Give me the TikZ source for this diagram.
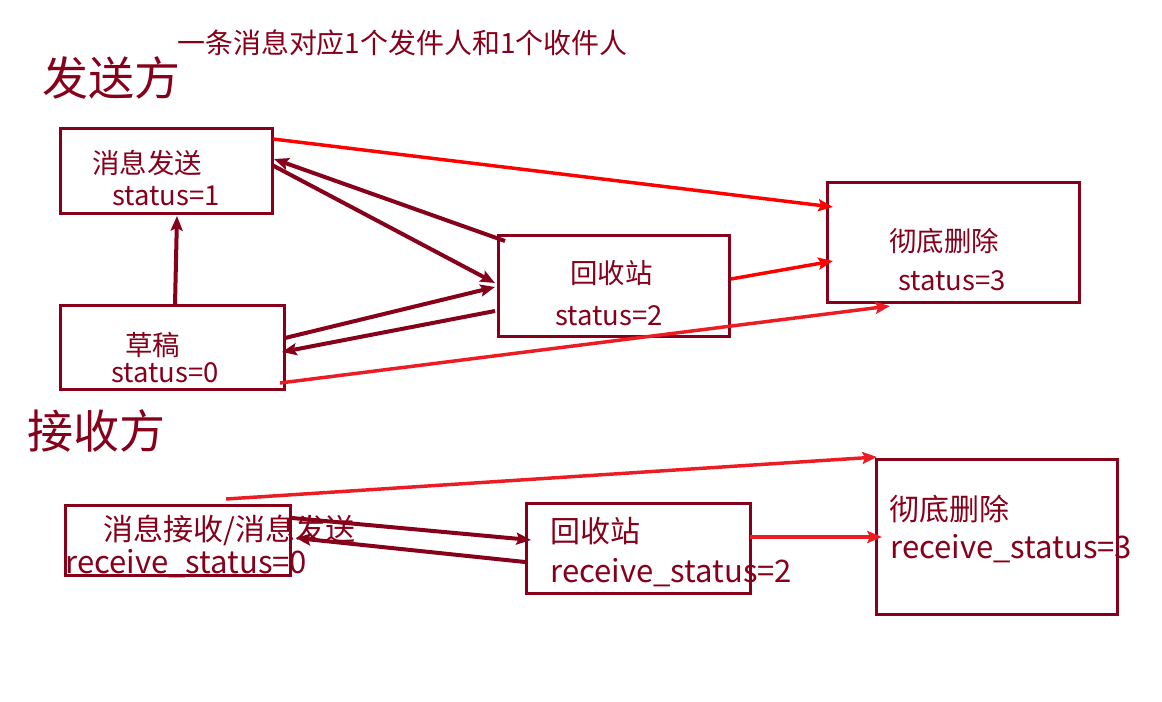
\documentclass[tikz,border=0pt]{standalone}
\usepackage{fontspec}
\setmainfont{Noto Sans CJK SC}
\usetikzlibrary{arrows.meta,calc}
\definecolor{dred}{RGB}{134,0,28}
\definecolor{redA}{RGB}{255,0,0}
\definecolor{redB}{RGB}{236,28,36}
\begin{document}
\begin{tikzpicture}[x=0.75pt,y=-0.75pt,
 box/.style={draw=dred,line width=2.25pt,inner sep=0,outer sep=0},
 lbl/.style={text=dred,inner sep=0,anchor=base west,font=\fontsize{20.6}{24}\selectfont},
 lblb/.style={lbl,font=\fontsize{22.5}{26}\selectfont},
 lblc/.style={lbl,font=\fontsize{23.3}{27}\selectfont},
 ttl/.style={lbl,font=\fontsize{20.95}{25}\selectfont},
 head/.style={lbl,font=\fontsize{34.5}{40}\selectfont},
 tip/.style={-{Stealth[length=11pt,width=9pt,inset=2pt]}},
 darr/.style={draw=dred,line width=3pt,tip},
 rarr/.style={draw=redA,line width=2.6pt,tip},
 rarrb/.style={draw=redB,line width=2.6pt,tip}]
\useasboundingbox[fill=white] (0,0) rectangle (1162,702);

% boxes
\node[box,minimum width=159pt,minimum height=63.75pt,anchor=north west] (A) at (60,129) {};
\node[box,minimum width=168pt,minimum height=63pt,anchor=north west] (D) at (60,305) {};
\node[box,minimum width=173.25pt,minimum height=75.75pt,anchor=north west] (R) at (498,235) {};
\node[box,minimum width=189pt,minimum height=89.25pt,anchor=north west] (X) at (827,183) {};
\node[box,minimum width=168.75pt,minimum height=52.5pt,anchor=north west] (B1) at (65,505) {};
\node[box,minimum width=168pt,minimum height=67.5pt,anchor=north west] (B2) at (526,503) {};
\node[box,minimum width=180.75pt,minimum height=116.25pt,anchor=north west] (B3) at (876,459) {};

% headings
\node[ttl] (title) at (177,54) {一条消息对应1个发件人和1个收件人};
\node[head] (send) at (42,96) {发送方};
\node[head] (recv) at (27,448) {接收方};

% labels
\node[lbl] (a1) at (92,174) {消息发送};
\node[lbl] (a2) at (112,205) {status=1};
\node[lbl] (d1) at (125,355) {草稿};
\node[lbl] (d2) at (111,382) {status=0};
\node[lbl] (r1) at (570,283) {回收站};
\node[lbl] (r2) at (555,325) {status=2};
\node[lbl] (x1) at (889,252) {彻底删除};
\node[lbl] (x2) at (898,290) {status=3};

\node[lblb] (b11) at (103,540) {消息接收/消息发送};
\node[lblc] (b12) at (65,573) {receive\_status=0};
\node[lblb] (b21) at (550,542) {回收站};
\node[lblc] (b22) at (550,582) {receive\_status=2};
\node[lblb] (b31) at (889,520) {彻底删除};
\node[lblc] (b32) at (890,558) {receive\_status=3};

% connectors (sender)
\draw[darr] ($(D.north west)+(115,0)$) -- ($(A.south west)+(117,2)$);
\draw[darr] ($(R.north west)+(7,6)$) -- ($(A.north east)+(2,30)$);
\draw[darr] ($(A.north east)+(0,36)$) -- ($(R.north west)+(-3,48)$);
\draw[darr] ($(D.north east)+(1,33)$) -- ($(R.north west)+(-3,52)$);
\draw[darr] ($(R.north west)+(-3,76)$) -- ($(D.north east)+(-2,47)$);
\draw[rarr] ($(A.north east)+(1,10)$) -- ($(X.north west)+(6,24)$);
\draw[rarr] ($(R.north east)+(2,44)$) -- ($(X.north west)+(6,78)$);
\draw[rarrb] ($(D.north east)+(-4,78)$) -- ($(X.south west)+(63,4)$);

% connectors (receiver)
\draw[rarrb] ($(B1.north west)+(161,-6)$) -- ($(B3.north west)+(1,-2)$);
\draw[darr] ($(B1.north east)+(2,13)$) -- ($(B2.north west)+(5,37)$);
\draw[darr] ($(B2.north west)+(-1,59)$) -- ($(B1.north east)+(6,33)$);
\draw[rarrb] ($(B2.north east)+(0,34)$) -- ($(B3.north west)+(6,78)$);
\end{tikzpicture}
\end{document}
